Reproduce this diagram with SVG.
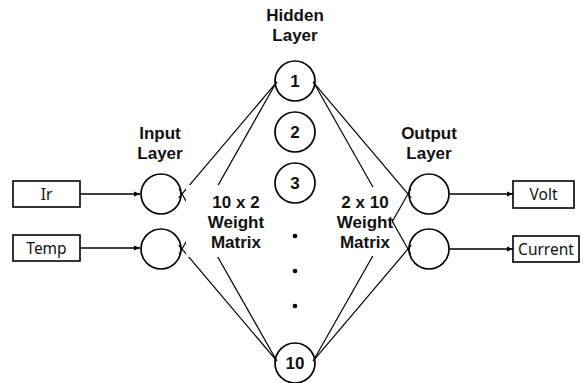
<svg xmlns="http://www.w3.org/2000/svg" width="585" height="383" viewBox="0 0 585 383">
<defs>
<style>
.lbl{font-family:"Liberation Sans",Arial,sans-serif;font-weight:bold;font-size:17px;text-anchor:middle;fill:#111}
.num{font-family:"Liberation Sans",Arial,sans-serif;font-weight:bold;font-size:17px;text-anchor:middle;fill:#111}
.box{fill:#fff;stroke:#000;stroke-width:1.6}
.btxt{font-family:"Noto Sans","Liberation Sans",sans-serif;font-size:15.5px;text-anchor:middle;fill:#111}
.node{fill:#fff;stroke:#000;stroke-width:1.7}
.ln{stroke:#000;stroke-width:1.2;fill:none}
.arr{stroke:#000;stroke-width:1.4;fill:none;marker-end:url(#ah)}
</style>
<marker id="ah" viewBox="0 0 10 10" refX="10" refY="5" markerWidth="6" markerHeight="6" markerUnits="userSpaceOnUse" orient="auto">
<path d="M0,1 L10,5 L0,9 z" fill="#000"/>
</marker>
</defs>
<rect width="585" height="383" fill="#fff"/>
<g id="box-ir"><rect class="box" x="13" y="181" width="67" height="26"/><text class="btxt" x="46.5" y="199.5">Ir</text></g>
<g id="box-temp"><rect class="box" x="13" y="235" width="67" height="26"/><text class="btxt" x="46.5" y="253.5">Temp</text></g>
<g id="box-volt"><rect class="box" x="513" y="181" width="61" height="27"/><text class="btxt" x="543.5" y="200">Volt</text></g>
<g id="box-current"><rect class="box" x="513" y="236" width="66" height="26"/><text class="btxt" x="546" y="254.5">Current</text></g>
<g id="in1"><circle class="node" cx="161" cy="194" r="20"/></g>
<g id="in2"><circle class="node" cx="161" cy="249" r="20"/></g>
<g id="h1"><circle class="node" cx="295" cy="81" r="20"/><text class="num" x="295" y="87">1</text></g>
<g id="h2"><circle class="node" cx="295" cy="132" r="20"/><text class="num" x="295" y="138">2</text></g>
<g id="h3"><circle class="node" cx="295" cy="183" r="20"/><text class="num" x="295" y="189">3</text></g>
<g id="dots" fill="#000"><circle cx="295" cy="236" r="2.3"/><circle cx="295" cy="271" r="2.3"/><circle cx="295" cy="306" r="2.3"/></g>
<g id="h10"><circle class="node" cx="295" cy="363" r="20"/><text class="num" x="295" y="369">10</text></g>
<g id="out1"><circle class="node" cx="429" cy="194" r="20"/></g>
<g id="out2"><circle class="node" cx="429" cy="249" r="20"/></g>
<g id="connectors">
<line class="ln" x1="178.7" y1="197.9" x2="277" y2="81.9"/>
<line class="ln" x1="179.2" y1="189" x2="276.7" y2="360.7"/>
<line class="ln" x1="179.2" y1="254" x2="276.7" y2="81.7"/>
<line class="ln" x1="178.7" y1="245.1" x2="277" y2="361.1"/>
<line class="ln" x1="313" y1="81.9" x2="411.3" y2="197.9"/>
<line class="ln" x1="313.3" y1="81.7" x2="410.8" y2="254"/>
<line class="ln" x1="313.3" y1="360.7" x2="410.8" y2="189"/>
<line class="ln" x1="313" y1="361.1" x2="411.3" y2="245.1"/>
<line class="arr" x1="80" y1="194" x2="140" y2="194"/>
<line class="arr" x1="80" y1="248" x2="140" y2="248"/>
<line class="arr" x1="450" y1="194" x2="513" y2="194"/>
<line class="arr" x1="450" y1="249" x2="513" y2="249"/>
</g>
<g id="label-w1">
<rect x="186" y="185" width="86" height="72" fill="#fff"/>
<text class="lbl" x="236" y="208">10 x 2</text>
<text class="lbl" x="236" y="228">Weight</text>
<text class="lbl" x="236" y="248">Matrix</text>
</g>
<g id="label-w2">
<rect x="318" y="187" width="74" height="69" fill="#fff"/>
<text class="lbl" x="365" y="208">2 x 10</text>
<text class="lbl" x="365" y="228">Weight</text>
<text class="lbl" x="365" y="248">Matrix</text>
</g>
<g id="title-input"><text class="lbl" x="160" y="139">Input</text><text class="lbl" x="160" y="159">Layer</text></g>
<g id="title-hidden"><text class="lbl" x="295" y="21">Hidden</text><text class="lbl" x="295" y="41">Layer</text></g>
<g id="title-output"><text class="lbl" x="429" y="139">Output</text><text class="lbl" x="429" y="159">Layer</text></g>
</svg>
